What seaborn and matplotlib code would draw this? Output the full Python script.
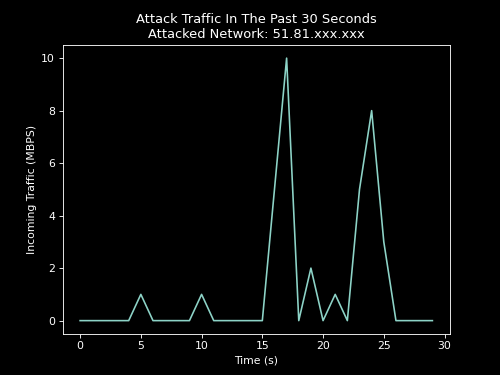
import matplotlib
matplotlib.use("Agg")
import matplotlib.pyplot as plt
import seaborn as sns
import pandas as pd

time_s = list(range(30))
traffic_mbps = [0, 0, 0, 0, 0, 1, 0, 0, 0, 0, 1, 0, 0, 0, 0, 0, 5, 10, 0, 2, 0, 1, 0, 5, 8, 3, 0, 0, 0, 0]

plt.style.use("dark_background")
df = pd.DataFrame({"Time (s)": time_s, "Incoming Traffic (MBPS)": traffic_mbps})

fig, ax = plt.subplots(figsize=(6.4, 4.8), dpi=78.125)
sns.lineplot(data=df, x="Time (s)", y="Incoming Traffic (MBPS)", ax=ax, color="#8dd3c7")
ax.set_title("Attack Traffic In The Past 30 Seconds\nAttacked Network: 51.81.xxx.xxx")
fig.savefig("out.png", dpi=78.125)
